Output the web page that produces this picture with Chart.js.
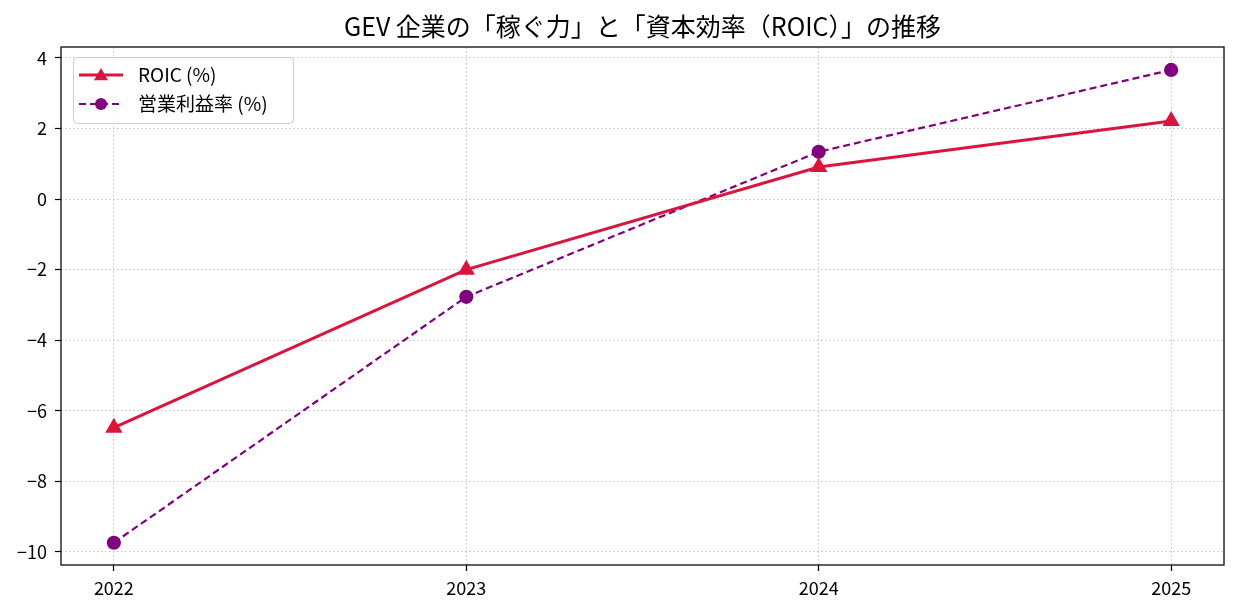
<!DOCTYPE html>
<html>
<head>
<meta charset="utf-8">
<script src="https://cdn.jsdelivr.net/npm/chart.js@4"></script>
<style>
  html, body { margin: 0; padding: 0; background: #fff; }
  #wrap { width: 1238px; height: 616px; position: relative; }
</style>
</head>
<body>
<div id="wrap"><canvas id="chart"></canvas></div>
<script>
// values
const years = [2022, 2023, 2024, 2025];
const roic = [-6.48, -2.0, 0.91, 2.21];
const opMargin = [-9.74, -2.77, 1.34, 3.66];
const yTicks = [-10, -8, -6, -4, -2, 0, 2, 4];

const FONT = '"Noto Sans CJK JP", "Noto Sans", sans-serif';
const titleText = 'GEV 企業の「稼ぐ力」と「資本効率（ROIC）」の推移';

const fmt = v => (v < 0 ? '\u2212' + Math.abs(v) : String(v));

// frame, title and legend (matplotlib look)
const decor = {
  id: 'decor',
  afterDraw(chart) {
    const { ctx, chartArea: a } = chart;
    ctx.save();
    ctx.strokeStyle = '#000';
    ctx.lineWidth = 1.25;
    ctx.strokeRect(a.left, a.top, a.right - a.left, a.bottom - a.top);

    ctx.fillStyle = '#000';
    ctx.font = '25px ' + FONT;
    ctx.textAlign = 'center';
    ctx.textBaseline = 'middle';
    ctx.fillText(titleText, (a.left + a.right) / 2, 26);

    // legend box
    const bx = 73, by = 57, bw = 220, bh = 66;
    ctx.fillStyle = 'rgba(255,255,255,0.85)';
    ctx.strokeStyle = '#cccccc';
    ctx.lineWidth = 1;
    ctx.beginPath();
    ctx.roundRect(bx + 0.5, by + 0.5, bw, bh, 4);
    ctx.fill();
    ctx.stroke();

    const rows = [
      { ds: chart.data.datasets[0], y: 75 },
      { ds: chart.data.datasets[1], y: 104 }
    ];
    rows.forEach(r => {
      const ds = r.ds;
      ctx.strokeStyle = ds.borderColor;
      ctx.lineWidth = ds.borderWidth;
      ctx.setLineDash(ds.borderDash || []);
      ctx.beginPath();
      ctx.moveTo(79, r.y);
      ctx.lineTo(123, r.y);
      ctx.stroke();
      ctx.setLineDash([]);
      ctx.fillStyle = ds.borderColor;
      ctx.beginPath();
      if (ds.pointStyle === 'triangle') {
        const s = 7;
        ctx.moveTo(101, r.y - s);
        ctx.lineTo(101 + s, r.y + s * 0.75);
        ctx.lineTo(101 - s, r.y + s * 0.75);
        ctx.closePath();
      } else {
        ctx.arc(101, r.y, 6, 0, Math.PI * 2);
      }
      ctx.fill();
      ctx.fillStyle = '#000';
      ctx.font = '19px ' + FONT;
      ctx.textAlign = 'left';
      ctx.fillText(ds.label, 138, r.y);
    });
    ctx.restore();
  }
};

const gridOpts = {
  color: '#c4c4c4',
  lineWidth: 1,
  tickColor: '#000',
  tickLength: 6,
  tickWidth: 1.2,
  tickBorderDash: []
};

new Chart(document.getElementById('chart'), {
  type: 'line',
  data: {
    datasets: [
      {
        label: 'ROIC (%)',
        data: years.map((y, i) => ({ x: y, y: roic[i] })),
        borderColor: '#dc143c',
        backgroundColor: '#dc143c',
        borderWidth: 3,
        pointStyle: 'triangle',
        pointRadius: 7,
        pointHoverRadius: 7,
        tension: 0
      },
      {
        label: '営業利益率 (%)',
        data: years.map((y, i) => ({ x: y, y: opMargin[i] })),
        borderColor: '#800080',
        backgroundColor: '#800080',
        borderWidth: 2.2,
        borderDash: [7, 4],
        pointStyle: 'circle',
        pointRadius: 6,
        pointHoverRadius: 6,
        tension: 0
      }
    ]
  },
  options: {
    responsive: true,
    maintainAspectRatio: false,
    animation: false,
    layout: { padding: { top: 47, right: 14, left: 0, bottom: 0 } },
    plugins: {
      legend: { display: false },
      title: { display: false },
      tooltip: { enabled: false }
    },
    scales: {
      x: {
        type: 'linear',
        min: 2021.85,
        max: 2025.15,
        afterBuildTicks: s => { s.ticks = years.map(v => ({ value: v })); },
        afterFit: s => { s.height = 51; },
        border: { display: false, dash: [1.5, 2.5] },
        grid: gridOpts,
        ticks: {
          color: '#000',
          font: { family: FONT, size: 18 },
          padding: 6,
          maxRotation: 0,
          callback: v => String(v)
        }
      },
      y: {
        min: -10.37,
        max: 4.31,
        afterBuildTicks: s => { s.ticks = yTicks.map(v => ({ value: v })); },
        afterFit: s => { s.width = 61; },
        border: { display: false, dash: [1.5, 2.5] },
        grid: gridOpts,
        ticks: {
          color: '#000',
          font: { family: FONT, size: 18 },
          padding: 8,
          callback: v => fmt(v)
        }
      }
    }
  },
  plugins: [decor]
});
</script>
</body>
</html>
